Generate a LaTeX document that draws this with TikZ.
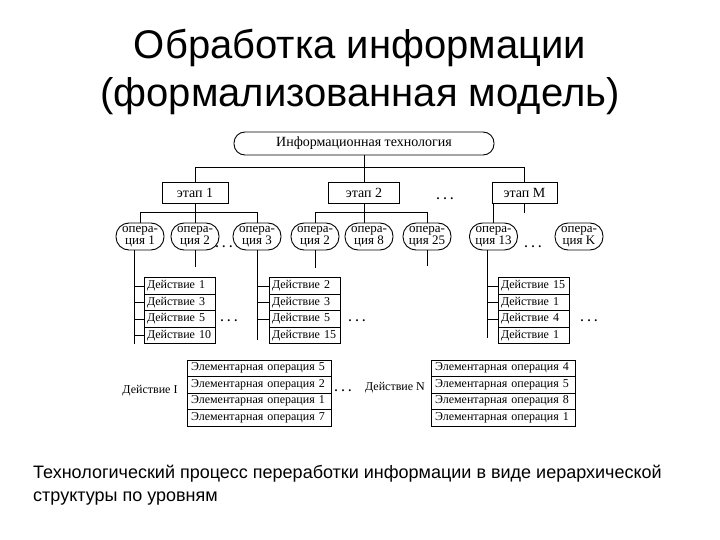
\documentclass[tikz,border=0pt]{standalone}
\usepackage{fontspec}
\setmainfont{Liberation Serif}
\newfontfamily\arialfont{Liberation Sans}
\begin{document}
\begin{tikzpicture}[x=1pt,y=-1pt,
  every node/.style={font=\fontsize{12}{13}\selectfont},
  line/.style={draw=black, line width=0.9pt},
  topbox/.style={draw, line width=0.9pt, rounded corners=11pt, minimum width=260pt, minimum height=23pt, inner sep=0pt, font=\fontsize{14}{15}\selectfont},
  stagebox/.style={draw, line width=0.9pt, minimum height=21pt, inner sep=0pt, font=\fontsize{14}{15}\selectfont},
  opnode/.style={draw, line width=0.9pt, rounded corners=13pt, minimum width=48pt, minimum height=27pt, inner sep=0pt, align=center, font=\fontsize{13}{11.5}\selectfont},
  cell/.style={draw, line width=0.9pt, minimum height=16.5pt, inner xsep=3pt, inner ysep=0pt, text width=65pt, align=left},
  bcell/.style={draw, line width=0.9pt, minimum height=16.5pt, inner xsep=4pt, inner ysep=0pt, text width=136pt, align=left},
  dotsnode/.style={inner sep=0pt, font=\bfseries\fontsize{12}{12}\selectfont},
  titletext/.style={font=\arialfont\fontsize{40}{48}\selectfont, anchor=base, inner sep=0pt},
  captext/.style={font=\arialfont\fontsize{18}{23}\selectfont, anchor=base west, inner sep=0pt}
]
\useasboundingbox (0,0) rectangle (720,540);

% titles
\node[titletext] (title1) at (360,59) {Обработка информации};
\node[titletext] (title2) at (360,107) {(формализованная модель)};

% top node
\node[topbox] (it) at (364,143.5) {Информационная технология};

% stages
\node[stagebox, minimum width=66pt] (s1) at (195,192.5) {этап 1};
\node[stagebox, minimum width=71pt] (s2) at (364,192.5) {этап 2};
\node[stagebox, minimum width=65pt] (sM) at (524.5,192.5) {этап M};
\node[dotsnode] (d0) at (445,199) {. . .};

% operations
\node[opnode] (op1) at (140,236.5) {опера-\\ция 1};
\node[opnode] (op2) at (195,236.5) {опера-\\ция 2};
\node[opnode] (op3) at (257,236.5) {опера-\\ция 3};
\node[opnode] (op2b) at (315,236.5) {опера-\\ция 2};
\node[opnode] (op8) at (369,236.5) {опера-\\ция 8};
\node[opnode] (op25) at (427,236.5) {опера-\\ция 25};
\node[opnode] (op13) at (493.5,236.5) {опера-\\ция 13};
\node[opnode] (opK) at (579,236.5) {опера-\\ция K};
\node[dotsnode] (d1) at (224,247) {. . .};
\node[dotsnode] (d2) at (533,247) {. . .};

% connectors top -> stages
\draw[line] (it.south) -- (s2.north);
\draw[line] (s1.north) -- ++(0,-14) -| (sM.north);

% stage 1 -> ops
\draw[line] (s1.south) -- (op2.north);
\draw[line] (op1.north) -- ++(0,-10) -| (op3.north);
% stage 2 -> ops
\draw[line] (s2.south) -- (s2.south |- op8.north);
\draw[line] (op2b.north) -- ++(0,-10) -| (op25.north);
% stage M -> ops
\draw[line] (op13.north) -- (op13.north |- sM.south);
\draw[line] (sM.south) -- ++(0,10);

% action tables
\node[cell] (t1a) at (179.5,286) {Действие 1};
\node[cell] (t1b) at (179.5,302.5) {Действие 3};
\node[cell] (t1c) at (179.5,319) {Действие 5};
\node[cell] (t1d) at (179.5,335.5) {Действие 10};

\node[cell] (t2a) at (304.5,286) {Действие 2};
\node[cell] (t2b) at (304.5,302.5) {Действие 3};
\node[cell] (t2c) at (304.5,319) {Действие 5};
\node[cell] (t2d) at (304.5,335.5) {Действие 15};

\node[cell] (t3a) at (533.5,286) {Действие 15};
\node[cell] (t3b) at (533.5,302.5) {Действие 1};
\node[cell] (t3c) at (533.5,319) {Действие 4};
\node[cell] (t3d) at (533.5,335.5) {Действие 1};

\node[dotsnode] (d3) at (229,321) {. . .};
\node[dotsnode] (d4) at (357,321) {. . .};
\node[dotsnode] (d5) at (589,321) {. . .};

% ops -> action tables
\draw[line] ([xshift=-6pt]op1.south) -- ([xshift=-6pt]op1.south |- t1d.south);
\foreach \r in {t1a,t1b,t1c,t1d} \draw[line] (\r.west) -- ++(-10,0);
\draw[line] (op2.south) -- ++(0,17);
\draw[line] (op3.south) -- ([yshift=-4pt]op3.south |- t2d.center);
\foreach \r in {t2a,t2b,t2c} \draw[line] (\r.west) -- ++(-11,0);
\draw[line] (op2b.south) -- ++(0,18);
\draw[line] (op25.south) -- ++(0,16);
\draw[line] ([xshift=-6pt]op13.south) -- ([xshift=-6pt,yshift=-2pt]op13.south |- t3d.center);
\foreach \r in {t3a,t3b,t3c} \draw[line] (\r.west) -- ++(-11,0);

% elementary operation tables
\node (actI) at (150,391) {Действие I};
\node[bcell] (ba1) at (259,368.25) {Элементарная операция 5};
\node[bcell] (ba2) at (259,384.75) {Элементарная операция 2};
\node[bcell] (ba3) at (259,401.25) {Элементарная операция 1};
\node[bcell] (ba4) at (259,417.75) {Элементарная операция 7};
\node[dotsnode] (d6) at (343,391) {. . .};
\node (actN) at (395,388) {Действие N};
\node[bcell] (bb1) at (503,368.25) {Элементарная операция 4};
\node[bcell] (bb2) at (503,384.75) {Элементарная операция 5};
\node[bcell] (bb3) at (503,401.25) {Элементарная операция 8};
\node[bcell] (bb4) at (503,417.75) {Элементарная операция 1};

% caption
\node[captext] (cap1) at (33,478) {Технологический процесс переработки информации в виде иерархической};
\node[captext] (cap2) at (33,501) {структуры по уровням};
\end{tikzpicture}
\end{document}
